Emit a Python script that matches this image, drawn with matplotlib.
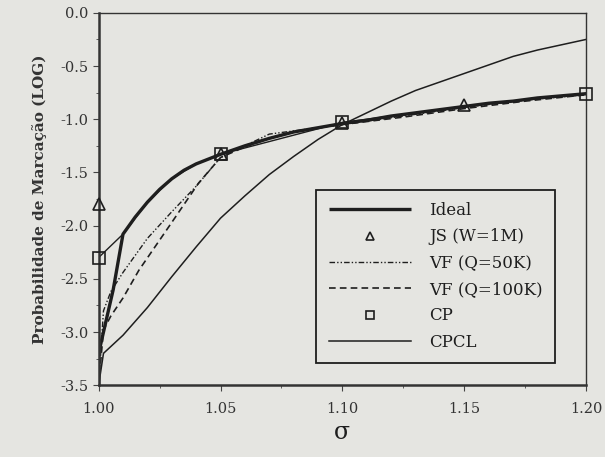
import matplotlib
matplotlib.use("Agg")
import matplotlib.pyplot as plt
from matplotlib.ticker import MultipleLocator, FormatStrFormatter

# Ideal curve
ideal_x = [1.000, 1.000, 1.002, 1.006, 1.010, 1.015, 1.020, 1.025, 1.030, 1.035, 1.040, 1.050,
           1.060, 1.070, 1.080, 1.090, 1.100, 1.110, 1.120, 1.130, 1.140, 1.150, 1.160,
           1.170, 1.180, 1.190, 1.200]
ideal_y = [-3.50, -3.20, -3.00, -2.60, -2.08, -1.92, -1.78, -1.66, -1.56, -1.48, -1.42, -1.33,
           -1.25, -1.18, -1.12, -1.08, -1.04, -1.01, -0.97, -0.94, -0.91, -0.88, -0.85,
           -0.83, -0.80, -0.78, -0.76]

# JS (W=1M), markers only
js_x = [1.00, 1.05, 1.10, 1.15]
js_y = [-1.80, -1.33, -1.04, -0.87]

# VF (Q=50K)
vf50_x = [1.000, 1.002, 1.005, 1.010, 1.020, 1.030, 1.040, 1.050, 1.060, 1.070, 1.080,
          1.090, 1.100, 1.125, 1.150, 1.175, 1.200]
vf50_y = [-3.50, -2.80, -2.62, -2.44, -2.12, -1.87, -1.63, -1.36, -1.25, -1.14, -1.11,
          -1.08, -1.05, -0.97, -0.89, -0.82, -0.77]

# VF (Q=100K)
vf100_x = [1.000, 1.002, 1.005, 1.010, 1.0165, 1.030, 1.041, 1.050, 1.060, 1.070, 1.080,
           1.090, 1.100, 1.125, 1.150, 1.175, 1.200]
vf100_y = [-3.50, -2.98, -2.85, -2.68, -2.42, -1.97, -1.60, -1.36, -1.26, -1.18, -1.12,
           -1.08, -1.05, -0.98, -0.90, -0.83, -0.77]

# CP
cp_x = [1.00, 1.01, 1.02, 1.03, 1.04, 1.05, 1.10, 1.15, 1.20]
cp_y = [-2.30, -2.08, -1.78, -1.56, -1.42, -1.33, -1.03, -0.88, -0.76]
cp_mark_x = [1.00, 1.05, 1.10, 1.20]
cp_mark_y = [-2.30, -1.33, -1.03, -0.76]

# CPCL
cpcl_x = [1.000, 1.002, 1.010, 1.020, 1.030, 1.040, 1.050, 1.060, 1.070, 1.080, 1.090,
          1.100, 1.110, 1.120, 1.130, 1.140, 1.150, 1.160, 1.170, 1.180, 1.190, 1.200]
cpcl_y = [-3.50, -3.20, -3.03, -2.77, -2.48, -2.20, -1.93, -1.72, -1.52, -1.35, -1.19,
          -1.05, -0.94, -0.83, -0.73, -0.65, -0.57, -0.49, -0.41, -0.35, -0.30, -0.25]

bg = '#e5e5e1'
ink = '#1e1e1e'
plt.rcParams['font.family'] = 'DejaVu Serif'

fig = plt.figure(figsize=(6.05, 4.57), dpi=100, facecolor=bg)
ax = fig.add_axes([0.163, 0.157, 0.806, 0.815], facecolor=bg)

ax.plot(ideal_x, ideal_y, color=ink, lw=2.4, label='Ideal', solid_capstyle='butt')
ax.plot(js_x, js_y, linestyle='none', marker='^', ms=8, mfc='none', mec=ink, mew=1.2,
        label='JS (W=1M)', clip_on=False, zorder=3)
ax.plot(vf50_x, vf50_y, color=ink, lw=1.0, linestyle=(0, (4, 1.5, 1, 1.5, 1, 1.5)),
        label='VF (Q=50K)')
ax.plot(vf100_x, vf100_y, color=ink, lw=1.2, linestyle=(0, (4, 2.5)), label='VF (Q=100K)')
ax.plot(cp_x, cp_y, color=ink, lw=1.0)
ax.plot(cp_mark_x, cp_mark_y, linestyle='none', marker='s', ms=8, mfc='none', mec=ink,
        mew=1.2, label='CP', clip_on=False, zorder=3)
ax.plot(cpcl_x, cpcl_y, color=ink, lw=1.1, label='CPCL')

ax.set_xlim(1.0, 1.2)
ax.set_ylim(-3.5, 0.0)
ax.xaxis.set_major_locator(MultipleLocator(0.05))
ax.xaxis.set_minor_locator(MultipleLocator(0.025))
ax.yaxis.set_major_locator(MultipleLocator(0.5))
ax.yaxis.set_minor_locator(MultipleLocator(0.25))
ax.xaxis.set_major_formatter(FormatStrFormatter('%.2f'))
ax.yaxis.set_major_formatter(FormatStrFormatter('%.1f'))

for s in ax.spines.values():
    s.set_color('#333333')
    s.set_linewidth(1.0)
ax.spines['left'].set_linewidth(1.8)
ax.spines['bottom'].set_linewidth(1.8)

ax.tick_params(which='both', direction='out', color='#444444', labelsize=10.5,
               labelcolor='#333333')
ax.tick_params(which='major', length=4)
ax.tick_params(which='minor', length=2.5)
ax.tick_params(axis='x', pad=8)

ax.set_xlabel('σ', fontsize=17, color=ink, labelpad=4)
ax.set_ylabel('Probabilidade de Marcação (LOG)', fontsize=11, fontweight='bold',
              color='#333333', labelpad=9)

leg = ax.legend(loc='lower right', bbox_to_anchor=(0.936, 0.059), borderaxespad=0,
                fontsize=12, frameon=True, fancybox=False, edgecolor=ink, facecolor=bg,
                framealpha=1, handlelength=4.9, labelspacing=0.56, borderpad=0.75,
                handletextpad=1.1, markerscale=0.75)
leg.get_frame().set_linewidth(1.3)
for t in leg.get_texts():
    t.set_color(ink)

fig.savefig('out.png', dpi=100, facecolor=bg)
